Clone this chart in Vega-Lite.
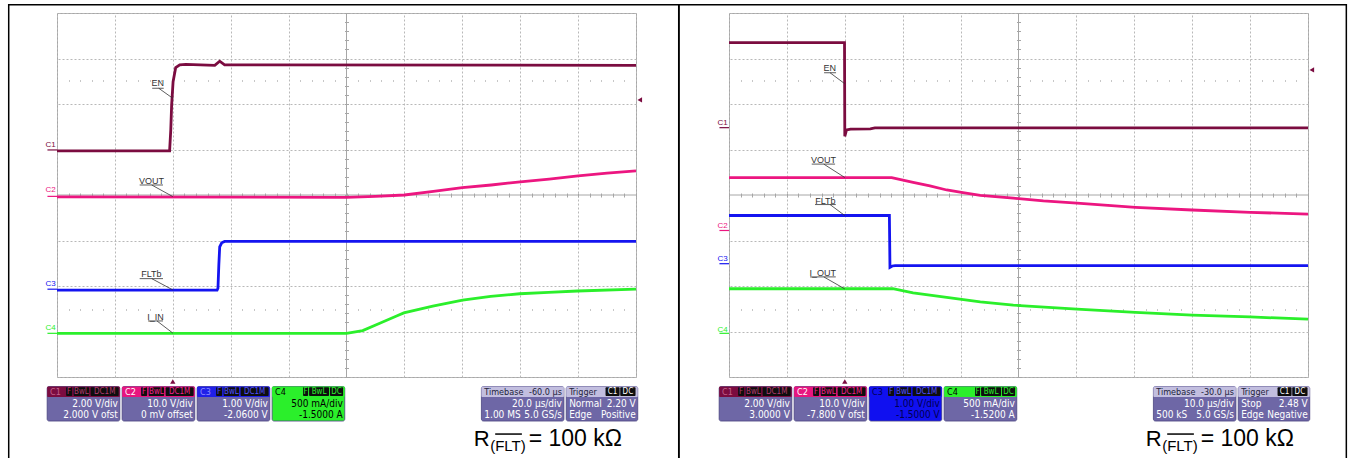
{
"$schema": "https://vega.github.io/schema/vega-lite/v6.json",
"background": "#ffffff",
"padding": {"left": 7, "top": 3, "right": 0, "bottom": 0},
"spacing": 93,
"bounds": "flush",
"config": {
  "view": {"stroke": "#a6a6a6", "strokeWidth": 1},
  "axis": {"labels": false, "ticks": false, "domain": false, "grid": false},
  "text": {"font": "Liberation Sans"}
},
"datasets": {
  "Ltr": [
    {"ch":"C1","t":-40,"v":0.97},{"ch":"C1","t":-1.1,"v":0.97},{"ch":"C1","t":-0.7,"v":1.43},{"ch":"C1","t":-0.4,"v":1.98},{"ch":"C1","t":0.1,"v":2.49},{"ch":"C1","t":1.0,"v":2.80},{"ch":"C1","t":2.4,"v":2.86},{"ch":"C1","t":4.5,"v":2.87},{"ch":"C1","t":14.5,"v":2.85},{"ch":"C1","t":16.2,"v":2.94},{"ch":"C1","t":17.9,"v":2.86},{"ch":"C1","t":160,"v":2.85},
    {"ch":"C2","t":-40,"v":-0.04},{"ch":"C2","t":60,"v":-0.05},{"ch":"C2","t":70,"v":-0.03},{"ch":"C2","t":80,"v":0.0},{"ch":"C2","t":90,"v":0.08},{"ch":"C2","t":100,"v":0.16},{"ch":"C2","t":110,"v":0.22},{"ch":"C2","t":120,"v":0.29},{"ch":"C2","t":130,"v":0.35},{"ch":"C2","t":140,"v":0.42},{"ch":"C2","t":150,"v":0.48},{"ch":"C2","t":160,"v":0.53},
    {"ch":"C3","t":-40,"v":-2.09},{"ch":"C3","t":15.3,"v":-2.09},{"ch":"C3","t":15.6,"v":-2.05},{"ch":"C3","t":15.9,"v":-1.54},{"ch":"C3","t":16.2,"v":-1.14},{"ch":"C3","t":16.9,"v":-1.05},{"ch":"C3","t":17.9,"v":-1.02},{"ch":"C3","t":160,"v":-1.02},
    {"ch":"C4","t":-40,"v":-3.04},{"ch":"C4","t":60,"v":-3.04},{"ch":"C4","t":65.6,"v":-2.98},{"ch":"C4","t":71.5,"v":-2.82},{"ch":"C4","t":77.3,"v":-2.66},{"ch":"C4","t":79.8,"v":-2.59},{"ch":"C4","t":89.8,"v":-2.44},{"ch":"C4","t":100.1,"v":-2.31},{"ch":"C4","t":109.8,"v":-2.23},{"ch":"C4","t":119.8,"v":-2.17},{"ch":"C4","t":129.8,"v":-2.14},{"ch":"C4","t":139.8,"v":-2.11},{"ch":"C4","t":160,"v":-2.07}
  ],
  "Rtr": [
    {"ch":"C1","t":-20,"v":3.35},{"ch":"C1","t":-0.05,"v":3.35},{"ch":"C1","t":0.0,"v":1.29},{"ch":"C1","t":0.3,"v":1.43},{"ch":"C1","t":1.0,"v":1.45},{"ch":"C1","t":4.4,"v":1.455},{"ch":"C1","t":5.2,"v":1.475},{"ch":"C1","t":80,"v":1.475},
    {"ch":"C2","t":-20,"v":0.38},{"ch":"C2","t":8.1,"v":0.38},{"ch":"C2","t":11.8,"v":0.28},{"ch":"C2","t":14.7,"v":0.20},{"ch":"C2","t":17.6,"v":0.11},{"ch":"C2","t":20.4,"v":0.05},{"ch":"C2","t":23.4,"v":-0.01},{"ch":"C2","t":29.1,"v":-0.07},{"ch":"C2","t":34.3,"v":-0.13},{"ch":"C2","t":40.1,"v":-0.18},{"ch":"C2","t":50.2,"v":-0.27},{"ch":"C2","t":60,"v":-0.33},{"ch":"C2","t":70,"v":-0.38},{"ch":"C2","t":80,"v":-0.42},
    {"ch":"C3","t":-20,"v":-0.45},{"ch":"C3","t":7.7,"v":-0.45},{"ch":"C3","t":7.8,"v":-1.59},{"ch":"C3","t":8.2,"v":-1.56},{"ch":"C3","t":8.7,"v":-1.55},{"ch":"C3","t":80,"v":-1.55},
    {"ch":"C4","t":-20,"v":-2.06},{"ch":"C4","t":8.3,"v":-2.06},{"ch":"C4","t":11.8,"v":-2.15},{"ch":"C4","t":17.6,"v":-2.25},{"ch":"C4","t":23.4,"v":-2.35},{"ch":"C4","t":29.1,"v":-2.42},{"ch":"C4","t":40.1,"v":-2.51},{"ch":"C4","t":50.2,"v":-2.58},{"ch":"C4","t":60,"v":-2.64},{"ch":"C4","t":70,"v":-2.68},{"ch":"C4","t":80,"v":-2.73}
  ],
  "Llab": [
    {"label":"EN","t":-5.22,"v":2.47},{"label":"VOUT","t":-7.4,"v":0.311},{"label":"FLTb","t":-7.4,"v":-1.741},{"label":"I_IN","t":-5.98,"v":-2.674}
  ],
  "Rlab": [
    {"label":"EN","t":-2.6,"v":2.797},{"label":"VOUT","t":-3.7,"v":0.766},{"label":"FLTb","t":-3.36,"v":-0.122},{"label":"I_OUT","t":-3.79,"v":-1.706}
  ],
  "Lseg": [
    {"t":-7.12,"t2":-3.14,"v":2.346,"v2":2.346},{"t":-4.86,"t2":0,"v":2.346,"v2":2.126},
    {"t":-11.44,"t2":-3.38,"v":0.22,"v2":0.22},{"t":-7.28,"t2":0,"v":0.22,"v2":-0.035},
    {"t":-11.44,"t2":-3.38,"v":-1.838,"v2":-1.838},{"t":-7.28,"t2":0,"v":-1.838,"v2":-2.086},
    {"t":-8.56,"t2":-3.38,"v":-2.768,"v2":-2.768},{"t":-5.46,"t2":0,"v":-2.768,"v2":-3.035}
  ],
  "Rseg": [
    {"t":-3.58,"t2":-1.51,"v":2.687,"v2":2.687},{"t":-2.55,"t2":0,"v":2.687,"v2":2.445},
    {"t":-5.71,"t2":-1.68,"v":0.679,"v2":0.679},{"t":-3.63,"t2":0,"v":0.679,"v2":0.384},
    {"t":-5.14,"t2":-1.56,"v":-0.21,"v2":-0.21},{"t":-2.55,"t2":0,"v":-0.21,"v2":-0.452},
    {"t":-6.0,"t2":-1.56,"v":-1.80,"v2":-1.80},{"t":-3.63,"t2":0,"v":-1.80,"v2":-2.064}
  ],
  "Lcm": [
    {"ch":"C1","t":-42.2,"v":1.09,"lt":-43.3,"lt2":-40,"lv":0.99},
    {"ch":"C2","t":-42.2,"v":0.10,"lt":-43.3,"lt2":-40,"lv":-0.03},
    {"ch":"C3","t":-42.2,"v":-1.96,"lt":-43.3,"lt2":-40,"lv":-2.07},
    {"ch":"C4","t":-42.2,"v":-2.92,"lt":-43.3,"lt2":-40,"lv":-3.04}
  ],
  "Rcm": [
    {"ch":"C1","t":-21.1,"v":1.59,"lt":-21.65,"lt2":-20,"lv":1.48},
    {"ch":"C2","t":-21.1,"v":-0.68,"lt":-21.65,"lt2":-20,"lv":-0.78},
    {"ch":"C3","t":-21.1,"v":-1.40,"lt":-21.65,"lt2":-20,"lv":-1.51},
    {"ch":"C4","t":-21.1,"v":-2.96,"lt":-21.65,"lt2":-20,"lv":-3.04}
  ],
  "Lbox": [
    {"kind":"body","tone":"body","t":-43.4,"t2":-18.3,"v":-4.209,"v2":-4.968},
    {"kind":"body","tone":"body","t":-17.5,"t2":7.6,"v":-4.209,"v2":-4.968},
    {"kind":"body","tone":"body","t":8.4,"t2":33.5,"v":-4.209,"v2":-4.968},
    {"kind":"body","tone":"green","t":34.3,"t2":59.4,"v":-4.209,"v2":-4.968},
    {"kind":"body","tone":"body","t":106.6,"t2":135.1,"v":-4.209,"v2":-4.968},
    {"kind":"body","tone":"body","t":135.9,"t2":160.6,"v":-4.209,"v2":-4.968},
    {"kind":"head","tone":"C1","t":-43.4,"t2":-18.3,"v":-4.209,"v2":-4.44},
    {"kind":"head","tone":"C2","t":-17.5,"t2":7.6,"v":-4.209,"v2":-4.44},
    {"kind":"head","tone":"C3","t":8.4,"t2":33.5,"v":-4.209,"v2":-4.44},
    {"kind":"head","tone":"C4","t":34.3,"t2":59.4,"v":-4.209,"v2":-4.44},
    {"kind":"head","tone":"tbh","t":106.6,"t2":135.1,"v":-4.209,"v2":-4.44},
    {"kind":"head","tone":"tbh","t":135.9,"t2":160.6,"v":-4.209,"v2":-4.44},
    {"kind":"chip","tone":"chip","t":-36.84,"t2":-34.76,"v":-4.228,"v2":-4.42},
    {"kind":"chip","tone":"chip","t":-34.24,"t2":-28.9,"v":-4.228,"v2":-4.42},
    {"kind":"chip","tone":"chip","t":-28.38,"t2":-18.7,"v":-4.228,"v2":-4.42},
    {"kind":"chip","tone":"chip","t":-10.94,"t2":-8.86,"v":-4.228,"v2":-4.42},
    {"kind":"chip","tone":"chip","t":-8.34,"t2":-3.0,"v":-4.228,"v2":-4.42},
    {"kind":"chip","tone":"chip","t":-2.48,"t2":7.2,"v":-4.228,"v2":-4.42},
    {"kind":"chip","tone":"chip","t":14.96,"t2":17.04,"v":-4.228,"v2":-4.42},
    {"kind":"chip","tone":"chip","t":17.56,"t2":22.9,"v":-4.228,"v2":-4.42},
    {"kind":"chip","tone":"chip","t":23.42,"t2":33.1,"v":-4.228,"v2":-4.42},
    {"kind":"chip","tone":"chip","t":45.0,"t2":46.74,"v":-4.228,"v2":-4.42},
    {"kind":"chip","tone":"chip","t":47.08,"t2":53.98,"v":-4.228,"v2":-4.42},
    {"kind":"chip","tone":"chip","t":54.3,"t2":58.82,"v":-4.228,"v2":-4.42},
    {"kind":"chip","tone":"chip","t":149.48,"t2":154.32,"v":-4.228,"v2":-4.42},
    {"kind":"chip","tone":"chip","t":154.56,"t2":159.84,"v":-4.228,"v2":-4.42}
  ],
  "Rbox": [
    {"kind":"body","tone":"body","t":-21.7,"t2":-9.15,"v":-4.209,"v2":-4.968},
    {"kind":"body","tone":"body","t":-8.75,"t2":3.8,"v":-4.209,"v2":-4.968},
    {"kind":"body","tone":"blue","t":4.2,"t2":16.75,"v":-4.209,"v2":-4.968},
    {"kind":"body","tone":"body","t":17.15,"t2":29.7,"v":-4.209,"v2":-4.968},
    {"kind":"body","tone":"body","t":53.3,"t2":67.55,"v":-4.209,"v2":-4.968},
    {"kind":"body","tone":"body","t":67.95,"t2":80.3,"v":-4.209,"v2":-4.968},
    {"kind":"head","tone":"C1","t":-21.7,"t2":-9.15,"v":-4.209,"v2":-4.44},
    {"kind":"head","tone":"C2","t":-8.75,"t2":3.8,"v":-4.209,"v2":-4.44},
    {"kind":"head","tone":"blue","t":4.2,"t2":16.75,"v":-4.209,"v2":-4.44},
    {"kind":"head","tone":"C4","t":17.15,"t2":29.7,"v":-4.209,"v2":-4.44},
    {"kind":"head","tone":"tbh","t":53.3,"t2":67.55,"v":-4.209,"v2":-4.44},
    {"kind":"head","tone":"tbh","t":67.95,"t2":80.3,"v":-4.209,"v2":-4.44},
    {"kind":"chip","tone":"chip","t":-18.42,"t2":-17.38,"v":-4.228,"v2":-4.42},
    {"kind":"chip","tone":"chip","t":-17.12,"t2":-14.45,"v":-4.228,"v2":-4.42},
    {"kind":"chip","tone":"chip","t":-14.19,"t2":-9.35,"v":-4.228,"v2":-4.42},
    {"kind":"chip","tone":"chip","t":-5.47,"t2":-4.43,"v":-4.228,"v2":-4.42},
    {"kind":"chip","tone":"chip","t":-4.17,"t2":-1.5,"v":-4.228,"v2":-4.42},
    {"kind":"chip","tone":"chip","t":-1.24,"t2":3.6,"v":-4.228,"v2":-4.42},
    {"kind":"chip","tone":"chip","t":7.48,"t2":8.52,"v":-4.228,"v2":-4.42},
    {"kind":"chip","tone":"chip","t":8.78,"t2":11.45,"v":-4.228,"v2":-4.42},
    {"kind":"chip","tone":"chip","t":11.71,"t2":16.55,"v":-4.228,"v2":-4.42},
    {"kind":"chip","tone":"chip","t":22.5,"t2":23.37,"v":-4.228,"v2":-4.42},
    {"kind":"chip","tone":"chip","t":23.54,"t2":26.99,"v":-4.228,"v2":-4.42},
    {"kind":"chip","tone":"chip","t":27.15,"t2":29.41,"v":-4.228,"v2":-4.42},
    {"kind":"chip","tone":"chip","t":74.74,"t2":77.16,"v":-4.228,"v2":-4.42},
    {"kind":"chip","tone":"chip","t":77.28,"t2":79.92,"v":-4.228,"v2":-4.42}
  ],
  "Ltxt": [
    {"text":"C1","tone":"c1h","side":"l","t":-42.4,"v":-4.324},
    {"text":"C2","tone":"w","side":"l","t":-16.5,"v":-4.324},
    {"text":"C3","tone":"c3h","side":"l","t":9.4,"v":-4.324},
    {"text":"C4","tone":"k","side":"l","t":35.3,"v":-4.324},
    {"text":"Timebase","tone":"dk","side":"l","t":107.6,"v":-4.324},
    {"text":"-60.0 µs","tone":"dk","side":"r","t":134.4,"v":-4.324},
    {"text":"Trigger","tone":"dk","side":"l","t":136.9,"v":-4.324},
    {"text":"F","tone":"c1","side":"c","t":-35.8,"v":-4.324},
    {"text":"BwL","tone":"c1","side":"c","t":-31.57,"v":-4.324},
    {"text":"DC1M","tone":"c1","side":"c","t":-23.54,"v":-4.324},
    {"text":"F","tone":"c2","side":"c","t":-9.9,"v":-4.324},
    {"text":"BwL","tone":"c2","side":"c","t":-5.67,"v":-4.324},
    {"text":"DC1M","tone":"c2","side":"c","t":2.36,"v":-4.324},
    {"text":"F","tone":"c3","side":"c","t":16.0,"v":-4.324},
    {"text":"BwL","tone":"c3","side":"c","t":20.23,"v":-4.324},
    {"text":"DC1M","tone":"c3","side":"c","t":28.26,"v":-4.324},
    {"text":"F","tone":"c4","side":"c","t":45.87,"v":-4.324},
    {"text":"BwL","tone":"c4","side":"c","t":50.53,"v":-4.324},
    {"text":"DC","tone":"c4","side":"c","t":56.56,"v":-4.324},
    {"text":"C1","tone":"w","side":"c","t":151.9,"v":-4.324},
    {"text":"DC","tone":"w","side":"c","t":157.2,"v":-4.324},
    {"text":"2.00 V/div","tone":"w","side":"r","t":-19.0,"v":-4.60},
    {"text":"10.0 V/div","tone":"w","side":"r","t":6.9,"v":-4.60},
    {"text":"1.00 V/div","tone":"w","side":"r","t":32.8,"v":-4.60},
    {"text":"500 mA/div","tone":"k","side":"r","t":58.7,"v":-4.60},
    {"text":"20.0 µs/div","tone":"w","side":"r","t":134.4,"v":-4.60},
    {"text":"Normal","tone":"w","side":"l","t":136.9,"v":-4.60},
    {"text":"2.20 V","tone":"w","side":"r","t":159.9,"v":-4.60},
    {"text":"2.000 V ofst","tone":"w","side":"r","t":-19.0,"v":-4.843},
    {"text":"0 mV offset","tone":"w","side":"r","t":6.9,"v":-4.843},
    {"text":"-2.0600 V","tone":"w","side":"r","t":32.8,"v":-4.843},
    {"text":"-1.5000 A","tone":"k","side":"r","t":58.7,"v":-4.843},
    {"text":"1.00 MS","tone":"w","side":"l","t":107.6,"v":-4.843},
    {"text":"5.0 GS/s","tone":"w","side":"r","t":134.4,"v":-4.843},
    {"text":"Edge","tone":"w","side":"l","t":136.9,"v":-4.843},
    {"text":"Positive","tone":"w","side":"r","t":159.9,"v":-4.843}
  ],
  "Rtxt": [
    {"text":"C1","tone":"c1h","side":"l","t":-21.2,"v":-4.324},
    {"text":"C2","tone":"w","side":"l","t":-8.25,"v":-4.324},
    {"text":"C3","tone":"nv","side":"l","t":4.7,"v":-4.324},
    {"text":"C4","tone":"k","side":"l","t":17.65,"v":-4.324},
    {"text":"Timebase","tone":"dk","side":"l","t":53.8,"v":-4.324},
    {"text":"-30.0 µs","tone":"dk","side":"r","t":67.2,"v":-4.324},
    {"text":"Trigger","tone":"dk","side":"l","t":68.45,"v":-4.324},
    {"text":"F","tone":"c1","side":"c","t":-17.9,"v":-4.324},
    {"text":"BwL","tone":"c1","side":"c","t":-15.785,"v":-4.324},
    {"text":"DC1M","tone":"c1","side":"c","t":-11.77,"v":-4.324},
    {"text":"F","tone":"c2","side":"c","t":-4.95,"v":-4.324},
    {"text":"BwL","tone":"c2","side":"c","t":-2.835,"v":-4.324},
    {"text":"DC1M","tone":"c2","side":"c","t":1.18,"v":-4.324},
    {"text":"F","tone":"c3","side":"c","t":8.0,"v":-4.324},
    {"text":"BwL","tone":"c3","side":"c","t":10.115,"v":-4.324},
    {"text":"DC1M","tone":"c3","side":"c","t":14.13,"v":-4.324},
    {"text":"F","tone":"c4","side":"c","t":22.935,"v":-4.324},
    {"text":"BwL","tone":"c4","side":"c","t":25.265,"v":-4.324},
    {"text":"DC","tone":"c4","side":"c","t":28.28,"v":-4.324},
    {"text":"C1","tone":"w","side":"c","t":75.95,"v":-4.324},
    {"text":"DC","tone":"w","side":"c","t":78.6,"v":-4.324},
    {"text":"2.00 V/div","tone":"w","side":"r","t":-9.5,"v":-4.60},
    {"text":"10.0 V/div","tone":"w","side":"r","t":3.45,"v":-4.60},
    {"text":"1.00 V/div","tone":"nv","side":"r","t":16.4,"v":-4.60},
    {"text":"500 mA/div","tone":"w","side":"r","t":29.35,"v":-4.60},
    {"text":"10.0 µs/div","tone":"w","side":"r","t":67.2,"v":-4.60},
    {"text":"Stop","tone":"w","side":"l","t":68.45,"v":-4.60},
    {"text":"2.48 V","tone":"w","side":"r","t":79.95,"v":-4.60},
    {"text":"3.0000 V","tone":"w","side":"r","t":-9.5,"v":-4.843},
    {"text":"-7.800 V ofst","tone":"w","side":"r","t":3.45,"v":-4.843},
    {"text":"-1.5000 V","tone":"nv","side":"r","t":16.4,"v":-4.843},
    {"text":"-1.5200 A","tone":"w","side":"r","t":29.35,"v":-4.843},
    {"text":"500 kS","tone":"w","side":"l","t":53.8,"v":-4.843},
    {"text":"5.0 GS/s","tone":"w","side":"r","t":67.2,"v":-4.843},
    {"text":"Edge","tone":"w","side":"l","t":68.45,"v":-4.843},
    {"text":"Negative","tone":"w","side":"r","t":79.95,"v":-4.843}
  ]
},
"hconcat": [
{
  "width": 579, "height": 364,
  "resolve": {"axis": {"x": "independent", "y": "independent"}, "scale": {"color": "independent", "fill": "independent"}},
  "layer": [
    {"data": {"values": [{"t": -56.68, "t2": 174.76, "v": 4.183, "v2": -5.9}]},
     "mark": {"type": "rect", "fillOpacity": 0, "stroke": "#000000", "strokeWidth": 1.5},
     "encoding": {"x": {"field": "t", "type": "quantitative", "scale": {"domain": [-40, 160], "nice": false, "zero": false}, "axis": null}, "x2": {"field": "t2"},
                  "y": {"field": "v", "type": "quantitative", "scale": {"domain": [-4, 4], "nice": false, "zero": false}, "axis": null}, "y2": {"field": "v2"}}},
    {"data": {"values": [{}]},
     "mark": {"type": "rule", "color": "#a6a6a6", "strokeWidth": 1},
     "encoding": {"x": {"datum": 60, "type": "quantitative", "axis": {"orient": "bottom", "offset": -184, "title": null, "ticks": true, "tickSize": 4, "tickColor": "#a6a6a6", "tickWidth": 1,
        "values": [-40,-36,-32,-28,-24,-20,-16,-12,-8,-4,0,4,8,12,16,20,24,28,32,36,40,44,48,52,56,60,64,68,72,76,80,84,88,92,96,100,104,108,112,116,120,124,128,132,136,140,144,148,152,156,160]}}}},
    {"data": {"values": [{}]},
     "mark": {"type": "rule", "color": "#a6a6a6", "strokeWidth": 1},
     "encoding": {"y": {"datum": 0, "type": "quantitative", "axis": {"orient": "left", "offset": -291.5, "title": null, "ticks": true, "tickSize": 4, "tickColor": "#a6a6a6", "tickWidth": 1,
        "values": [-4,-3.8,-3.6,-3.4,-3.2,-3,-2.8,-2.6,-2.4,-2.2,-2,-1.8,-1.6,-1.4,-1.2,-1,-0.8,-0.6,-0.4,-0.2,0,0.2,0.4,0.6,0.8,1,1.2,1.4,1.6,1.8,2,2.2,2.4,2.6,2.8,3,3.2,3.4,3.6,3.8,4]}}}},
    {"data": {"values": [{}]},
     "mark": {"type": "rule", "strokeOpacity": 0},
     "encoding": {"x": {"datum": 60, "type": "quantitative", "axis": {"orient": "top", "offset": -68.25, "title": null, "ticks": true, "tickSize": 1.5, "tickColor": "#b4b4b4", "tickWidth": 1,
        "values": [-36,-32,-28,-24,-16,-12,-8,-4,4,8,12,16,24,28,32,36,44,48,52,56,64,68,72,76,84,88,92,96,104,108,112,116,124,128,132,136,144,148,152,156]}}}},
    {"data": {"values": [{}]},
     "mark": {"type": "rule", "strokeOpacity": 0},
     "encoding": {"x": {"datum": 60, "type": "quantitative", "axis": {"orient": "bottom", "offset": -68.25, "title": null, "ticks": true, "tickSize": 1.5, "tickColor": "#b4b4b4", "tickWidth": 1,
        "values": [-36,-32,-28,-24,-16,-12,-8,-4,4,8,12,16,24,28,32,36,44,48,52,56,64,68,72,76,84,88,92,96,104,108,112,116,124,128,132,136,144,148,152,156]}}}},
    {"data": {"name": "Ltr"},
     "mark": {"type": "line", "strokeWidth": 2.8, "clip": true},
     "encoding": {
       "x": {"field": "t", "type": "quantitative", "scale": {"domain": [-40, 160], "nice": false, "zero": false},
             "axis": {"values": [-40,-20,0,20,40,80,100,120,140,160], "grid": true, "gridColor": "#b8b8b8", "gridDash": [2, 2], "gridWidth": 1, "title": null}},
       "y": {"field": "v", "type": "quantitative", "scale": {"domain": [-4, 4], "nice": false, "zero": false},
             "axis": {"values": [-4,-3,-2,-1,1,2,3,4], "grid": true, "gridColor": "#b8b8b8", "gridDash": [2, 2], "gridWidth": 1, "title": null}},
       "color": {"field": "ch", "type": "nominal", "scale": {"domain": ["C1","C2","C3","C4"], "range": ["#7b0c40","#ec1680","#1414f0","#2bef2b"]}, "legend": null}}},
    {"data": {"name": "Lseg"},
     "mark": {"type": "rule", "color": "#333333", "strokeWidth": 0.8},
     "encoding": {"x": {"field": "t", "type": "quantitative", "axis": null}, "x2": {"field": "t2"}, "y": {"field": "v", "type": "quantitative", "axis": null}, "y2": {"field": "v2"}}},
    {"data": {"name": "Llab"},
     "mark": {"type": "text", "fontSize": 9, "color": "#333333", "align": "center", "baseline": "middle"},
     "encoding": {"x": {"field": "t", "type": "quantitative", "axis": null}, "y": {"field": "v", "type": "quantitative", "axis": null}, "text": {"field": "label"}}},
    {"data": {"name": "Lcm"},
     "mark": {"type": "text", "fontSize": 8, "align": "center", "baseline": "middle"},
     "encoding": {"x": {"field": "t", "type": "quantitative", "axis": null}, "y": {"field": "v", "type": "quantitative", "axis": null}, "text": {"field": "ch"},
       "color": {"field": "ch", "type": "nominal", "scale": {"domain": ["C1","C2","C3","C4"], "range": ["#7b0c40","#ec1680","#1414f0","#2bef2b"]}, "legend": null}}},
    {"data": {"name": "Lcm"},
     "mark": {"type": "rule", "strokeWidth": 1.2},
     "encoding": {"x": {"field": "lt", "type": "quantitative", "axis": null}, "x2": {"field": "lt2"}, "y": {"field": "lv", "type": "quantitative", "axis": null},
       "color": {"field": "ch", "type": "nominal", "scale": {"domain": ["C1","C2","C3","C4"], "range": ["#7b0c40","#ec1680","#1414f0","#2bef2b"]}, "legend": null}}},
    {"data": {"values": [{"ch": "C1", "t": 161.3, "v": 2.09}]},
     "mark": {"type": "point", "shape": "triangle-left", "filled": true, "size": 28, "color": "#7b0c40", "opacity": 1},
     "encoding": {"x": {"field": "t", "type": "quantitative", "axis": null}, "y": {"field": "v", "type": "quantitative", "axis": null}}},
    {"data": {"values": [{"ch": "C1", "t": 0, "v": -4.10}]},
     "mark": {"type": "point", "shape": "triangle-up", "filled": true, "size": 28, "color": "#7b0c40", "opacity": 1},
     "encoding": {"x": {"field": "t", "type": "quantitative", "axis": null}, "y": {"field": "v", "type": "quantitative", "axis": null}}},
    {"data": {"name": "Lbox"}, "transform": [{"filter": "datum.kind == 'body'"}],
     "mark": {"type": "rect", "stroke": "#4a4480", "strokeWidth": 0.8, "cornerRadius": 2},
     "encoding": {"x": {"field": "t", "type": "quantitative", "axis": null}, "x2": {"field": "t2"}, "y": {"field": "v", "type": "quantitative", "axis": null}, "y2": {"field": "v2"},
       "fill": {"field": "tone", "type": "nominal", "scale": {"domain": ["body","C1","C2","C3","C4","tbh","chip","blue","green"], "range": ["#6e67a6","#7b0c40","#e8157f","#2020e8","#2bef2b","#c2bedf","#0e0e0e","#1010f0","#2bef2b"]}, "legend": null}}},
    {"data": {"name": "Lbox"}, "transform": [{"filter": "datum.kind != 'body'"}],
     "mark": {"type": "rect", "cornerRadius": 1},
     "encoding": {"x": {"field": "t", "type": "quantitative", "axis": null}, "x2": {"field": "t2"}, "y": {"field": "v", "type": "quantitative", "axis": null}, "y2": {"field": "v2"},
       "fill": {"field": "tone", "type": "nominal", "scale": {"domain": ["body","C1","C2","C3","C4","tbh","chip","blue","green"], "range": ["#6e67a6","#7b0c40","#e8157f","#2020e8","#2bef2b","#c2bedf","#0e0e0e","#1010f0","#2bef2b"]}, "legend": null}}},
    {"data": {"name": "Ltxt"}, "transform": [{"filter": "datum.side == 'l' && datum.v > -4.4"}],
     "mark": {"type": "text", "align": "left", "baseline": "middle", "font": "Liberation Sans Narrow, Arial Narrow, DejaVu Sans Condensed, sans-serif", "fontSize": 9},
     "encoding": {"x": {"field": "t", "type": "quantitative", "axis": null}, "y": {"field": "v", "type": "quantitative", "axis": null}, "text": {"field": "text"},
       "color": {"field": "tone", "type": "nominal", "scale": {"domain": ["w","k","nv","dk","c1","c2","c3","c4","c1h","c3h"], "range": ["#ffffff","#000000","#000050","#1e1e3c","#b03a6c","#f0208a","#5050ff","#2bef2b","#c0608a","#8c8cff"]}, "legend": null}}},
    {"data": {"name": "Ltxt"}, "transform": [{"filter": "datum.side == 'r' && datum.v > -4.4"}],
     "mark": {"type": "text", "align": "right", "baseline": "middle", "font": "Liberation Sans Narrow, Arial Narrow, DejaVu Sans Condensed, sans-serif", "fontSize": 9},
     "encoding": {"x": {"field": "t", "type": "quantitative", "axis": null}, "y": {"field": "v", "type": "quantitative", "axis": null}, "text": {"field": "text"},
       "color": {"field": "tone", "type": "nominal", "scale": {"domain": ["w","k","nv","dk","c1","c2","c3","c4","c1h","c3h"], "range": ["#ffffff","#000000","#000050","#1e1e3c","#b03a6c","#f0208a","#5050ff","#2bef2b","#c0608a","#8c8cff"]}, "legend": null}}},
    {"data": {"name": "Ltxt"}, "transform": [{"filter": "datum.side == 'l' && datum.v < -4.4"}],
     "mark": {"type": "text", "align": "left", "baseline": "middle", "font": "Liberation Sans Narrow, Arial Narrow, DejaVu Sans Condensed, sans-serif", "fontSize": 10},
     "encoding": {"x": {"field": "t", "type": "quantitative", "axis": null}, "y": {"field": "v", "type": "quantitative", "axis": null}, "text": {"field": "text"},
       "color": {"field": "tone", "type": "nominal", "scale": {"domain": ["w","k","nv","dk","c1","c2","c3","c4","c1h","c3h"], "range": ["#ffffff","#000000","#000050","#1e1e3c","#b03a6c","#f0208a","#5050ff","#2bef2b","#c0608a","#8c8cff"]}, "legend": null}}},
    {"data": {"name": "Ltxt"}, "transform": [{"filter": "datum.side == 'r' && datum.v < -4.4"}],
     "mark": {"type": "text", "align": "right", "baseline": "middle", "font": "Liberation Sans Narrow, Arial Narrow, DejaVu Sans Condensed, sans-serif", "fontSize": 10},
     "encoding": {"x": {"field": "t", "type": "quantitative", "axis": null}, "y": {"field": "v", "type": "quantitative", "axis": null}, "text": {"field": "text"},
       "color": {"field": "tone", "type": "nominal", "scale": {"domain": ["w","k","nv","dk","c1","c2","c3","c4","c1h","c3h"], "range": ["#ffffff","#000000","#000050","#1e1e3c","#b03a6c","#f0208a","#5050ff","#2bef2b","#c0608a","#8c8cff"]}, "legend": null}}},
    {"data": {"name": "Ltxt"}, "transform": [{"filter": "datum.side == 'c'"}],
     "mark": {"type": "text", "align": "center", "baseline": "middle", "font": "Liberation Sans Narrow, Arial Narrow, DejaVu Sans Condensed, sans-serif", "fontSize": 8},
     "encoding": {"x": {"field": "t", "type": "quantitative", "axis": null}, "y": {"field": "v", "type": "quantitative", "axis": null}, "text": {"field": "text"},
       "color": {"field": "tone", "type": "nominal", "scale": {"domain": ["w","k","nv","dk","c1","c2","c3","c4","c1h","c3h"], "range": ["#ffffff","#000000","#000050","#1e1e3c","#b03a6c","#f0208a","#5050ff","#2bef2b","#c0608a","#8c8cff"]}, "legend": null}}},
    {"data": {"values": [{"text": "R", "t": 103.94, "v": -5.518}]},
     "mark": {"type": "text", "align": "left", "baseline": "alphabetic", "fontSize": 22, "color": "#000000"},
     "encoding": {"x": {"field": "t", "type": "quantitative", "axis": null}, "y": {"field": "v", "type": "quantitative", "axis": null}, "text": {"field": "text"}}},
    {"data": {"values": [{"text": "= 100 kΩ", "t": 122.94, "v": -5.518}]},
     "mark": {"type": "text", "align": "left", "baseline": "alphabetic", "fontSize": 23, "color": "#000000"},
     "encoding": {"x": {"field": "t", "type": "quantitative", "axis": null}, "y": {"field": "v", "type": "quantitative", "axis": null}, "text": {"field": "text"}}},
    {"data": {"values": [{"text": "(FLT)", "t": 109.64, "v": -5.628}]},
     "mark": {"type": "text", "align": "left", "baseline": "alphabetic", "fontSize": 15, "color": "#000000"},
     "encoding": {"x": {"field": "t", "type": "quantitative", "axis": null}, "y": {"field": "v", "type": "quantitative", "axis": null}, "text": {"field": "text"}}},
    {"data": {"values": [{"t": 111.36, "t2": 120.58, "v": -5.254}]},
     "mark": {"type": "rule", "color": "#000000", "strokeWidth": 1.5},
     "encoding": {"x": {"field": "t", "type": "quantitative", "axis": null}, "x2": {"field": "t2"}, "y": {"field": "v", "type": "quantitative", "axis": null}}}
  ]
},
{
  "width": 579, "height": 364,
  "resolve": {"axis": {"x": "independent", "y": "independent"}, "scale": {"color": "independent", "fill": "independent"}},
  "layer": [
    {"data": {"values": [{"t": -28.64, "t2": 86.62, "v": 4.183, "v2": -5.9}]},
     "mark": {"type": "rect", "fillOpacity": 0, "stroke": "#000000", "strokeWidth": 1.5},
     "encoding": {"x": {"field": "t", "type": "quantitative", "scale": {"domain": [-20, 80], "nice": false, "zero": false}, "axis": null}, "x2": {"field": "t2"},
                  "y": {"field": "v", "type": "quantitative", "scale": {"domain": [-4, 4], "nice": false, "zero": false}, "axis": null}, "y2": {"field": "v2"}}},
    {"data": {"values": [{}]},
     "mark": {"type": "rule", "color": "#a6a6a6", "strokeWidth": 1},
     "encoding": {"x": {"datum": 30, "type": "quantitative", "axis": {"orient": "bottom", "offset": -184, "title": null, "ticks": true, "tickSize": 4, "tickColor": "#a6a6a6", "tickWidth": 1,
        "values": [-20,-18,-16,-14,-12,-10,-8,-6,-4,-2,0,2,4,6,8,10,12,14,16,18,20,22,24,26,28,30,32,34,36,38,40,42,44,46,48,50,52,54,56,58,60,62,64,66,68,70,72,74,76,78,80]}}}},
    {"data": {"values": [{}]},
     "mark": {"type": "rule", "color": "#a6a6a6", "strokeWidth": 1},
     "encoding": {"y": {"datum": 0, "type": "quantitative", "axis": {"orient": "left", "offset": -291.5, "title": null, "ticks": true, "tickSize": 4, "tickColor": "#a6a6a6", "tickWidth": 1,
        "values": [-4,-3.8,-3.6,-3.4,-3.2,-3,-2.8,-2.6,-2.4,-2.2,-2,-1.8,-1.6,-1.4,-1.2,-1,-0.8,-0.6,-0.4,-0.2,0,0.2,0.4,0.6,0.8,1,1.2,1.4,1.6,1.8,2,2.2,2.4,2.6,2.8,3,3.2,3.4,3.6,3.8,4]}}}},
    {"data": {"values": [{}]},
     "mark": {"type": "rule", "strokeOpacity": 0},
     "encoding": {"x": {"datum": 30, "type": "quantitative", "axis": {"orient": "top", "offset": -68.25, "title": null, "ticks": true, "tickSize": 1.5, "tickColor": "#b4b4b4", "tickWidth": 1,
        "values": [-18,-16,-14,-12,-8,-6,-4,-2,2,4,6,8,12,14,16,18,22,24,26,28,32,34,36,38,42,44,46,48,52,54,56,58,62,64,66,68,72,74,76,78]}}}},
    {"data": {"values": [{}]},
     "mark": {"type": "rule", "strokeOpacity": 0},
     "encoding": {"x": {"datum": 30, "type": "quantitative", "axis": {"orient": "bottom", "offset": -68.25, "title": null, "ticks": true, "tickSize": 1.5, "tickColor": "#b4b4b4", "tickWidth": 1,
        "values": [-18,-16,-14,-12,-8,-6,-4,-2,2,4,6,8,12,14,16,18,22,24,26,28,32,34,36,38,42,44,46,48,52,54,56,58,62,64,66,68,72,74,76,78]}}}},
    {"data": {"name": "Rtr"},
     "mark": {"type": "line", "strokeWidth": 2.8, "clip": true},
     "encoding": {
       "x": {"field": "t", "type": "quantitative", "scale": {"domain": [-20, 80], "nice": false, "zero": false},
             "axis": {"values": [-20,-10,0,10,20,40,50,60,70,80], "grid": true, "gridColor": "#b8b8b8", "gridDash": [2, 2], "gridWidth": 1, "title": null}},
       "y": {"field": "v", "type": "quantitative", "scale": {"domain": [-4, 4], "nice": false, "zero": false},
             "axis": {"values": [-4,-3,-2,-1,1,2,3,4], "grid": true, "gridColor": "#b8b8b8", "gridDash": [2, 2], "gridWidth": 1, "title": null}},
       "color": {"field": "ch", "type": "nominal", "scale": {"domain": ["C1","C2","C3","C4"], "range": ["#7b0c40","#ec1680","#1414f0","#2bef2b"]}, "legend": null}}},
    {"data": {"name": "Rseg"},
     "mark": {"type": "rule", "color": "#333333", "strokeWidth": 0.8},
     "encoding": {"x": {"field": "t", "type": "quantitative", "axis": null}, "x2": {"field": "t2"}, "y": {"field": "v", "type": "quantitative", "axis": null}, "y2": {"field": "v2"}}},
    {"data": {"name": "Rlab"},
     "mark": {"type": "text", "fontSize": 9, "color": "#333333", "align": "center", "baseline": "middle"},
     "encoding": {"x": {"field": "t", "type": "quantitative", "axis": null}, "y": {"field": "v", "type": "quantitative", "axis": null}, "text": {"field": "label"}}},
    {"data": {"name": "Rcm"},
     "mark": {"type": "text", "fontSize": 8, "align": "center", "baseline": "middle"},
     "encoding": {"x": {"field": "t", "type": "quantitative", "axis": null}, "y": {"field": "v", "type": "quantitative", "axis": null}, "text": {"field": "ch"},
       "color": {"field": "ch", "type": "nominal", "scale": {"domain": ["C1","C2","C3","C4"], "range": ["#7b0c40","#ec1680","#1414f0","#2bef2b"]}, "legend": null}}},
    {"data": {"name": "Rcm"},
     "mark": {"type": "rule", "strokeWidth": 1.2},
     "encoding": {"x": {"field": "lt", "type": "quantitative", "axis": null}, "x2": {"field": "lt2"}, "y": {"field": "lv", "type": "quantitative", "axis": null},
       "color": {"field": "ch", "type": "nominal", "scale": {"domain": ["C1","C2","C3","C4"], "range": ["#7b0c40","#ec1680","#1414f0","#2bef2b"]}, "legend": null}}},
    {"data": {"values": [{"ch": "C1", "t": 80.66, "v": 2.75}]},
     "mark": {"type": "point", "shape": "triangle-left", "filled": true, "size": 28, "color": "#7b0c40", "opacity": 1},
     "encoding": {"x": {"field": "t", "type": "quantitative", "axis": null}, "y": {"field": "v", "type": "quantitative", "axis": null}}},
    {"data": {"values": [{"ch": "C1", "t": 0, "v": -4.10}]},
     "mark": {"type": "point", "shape": "triangle-up", "filled": true, "size": 28, "color": "#7b0c40", "opacity": 1},
     "encoding": {"x": {"field": "t", "type": "quantitative", "axis": null}, "y": {"field": "v", "type": "quantitative", "axis": null}}},
    {"data": {"name": "Rbox"}, "transform": [{"filter": "datum.kind == 'body'"}],
     "mark": {"type": "rect", "stroke": "#4a4480", "strokeWidth": 0.8, "cornerRadius": 2},
     "encoding": {"x": {"field": "t", "type": "quantitative", "axis": null}, "x2": {"field": "t2"}, "y": {"field": "v", "type": "quantitative", "axis": null}, "y2": {"field": "v2"},
       "fill": {"field": "tone", "type": "nominal", "scale": {"domain": ["body","C1","C2","C3","C4","tbh","chip","blue","green"], "range": ["#6e67a6","#7b0c40","#e8157f","#2020e8","#2bef2b","#c2bedf","#0e0e0e","#1010f0","#2bef2b"]}, "legend": null}}},
    {"data": {"name": "Rbox"}, "transform": [{"filter": "datum.kind != 'body'"}],
     "mark": {"type": "rect", "cornerRadius": 1},
     "encoding": {"x": {"field": "t", "type": "quantitative", "axis": null}, "x2": {"field": "t2"}, "y": {"field": "v", "type": "quantitative", "axis": null}, "y2": {"field": "v2"},
       "fill": {"field": "tone", "type": "nominal", "scale": {"domain": ["body","C1","C2","C3","C4","tbh","chip","blue","green"], "range": ["#6e67a6","#7b0c40","#e8157f","#2020e8","#2bef2b","#c2bedf","#0e0e0e","#1010f0","#2bef2b"]}, "legend": null}}},
    {"data": {"name": "Rtxt"}, "transform": [{"filter": "datum.side == 'l' && datum.v > -4.4"}],
     "mark": {"type": "text", "align": "left", "baseline": "middle", "font": "Liberation Sans Narrow, Arial Narrow, DejaVu Sans Condensed, sans-serif", "fontSize": 9},
     "encoding": {"x": {"field": "t", "type": "quantitative", "axis": null}, "y": {"field": "v", "type": "quantitative", "axis": null}, "text": {"field": "text"},
       "color": {"field": "tone", "type": "nominal", "scale": {"domain": ["w","k","nv","dk","c1","c2","c3","c4","c1h","c3h"], "range": ["#ffffff","#000000","#000050","#1e1e3c","#b03a6c","#f0208a","#5050ff","#2bef2b","#c0608a","#8c8cff"]}, "legend": null}}},
    {"data": {"name": "Rtxt"}, "transform": [{"filter": "datum.side == 'r' && datum.v > -4.4"}],
     "mark": {"type": "text", "align": "right", "baseline": "middle", "font": "Liberation Sans Narrow, Arial Narrow, DejaVu Sans Condensed, sans-serif", "fontSize": 9},
     "encoding": {"x": {"field": "t", "type": "quantitative", "axis": null}, "y": {"field": "v", "type": "quantitative", "axis": null}, "text": {"field": "text"},
       "color": {"field": "tone", "type": "nominal", "scale": {"domain": ["w","k","nv","dk","c1","c2","c3","c4","c1h","c3h"], "range": ["#ffffff","#000000","#000050","#1e1e3c","#b03a6c","#f0208a","#5050ff","#2bef2b","#c0608a","#8c8cff"]}, "legend": null}}},
    {"data": {"name": "Rtxt"}, "transform": [{"filter": "datum.side == 'l' && datum.v < -4.4"}],
     "mark": {"type": "text", "align": "left", "baseline": "middle", "font": "Liberation Sans Narrow, Arial Narrow, DejaVu Sans Condensed, sans-serif", "fontSize": 10},
     "encoding": {"x": {"field": "t", "type": "quantitative", "axis": null}, "y": {"field": "v", "type": "quantitative", "axis": null}, "text": {"field": "text"},
       "color": {"field": "tone", "type": "nominal", "scale": {"domain": ["w","k","nv","dk","c1","c2","c3","c4","c1h","c3h"], "range": ["#ffffff","#000000","#000050","#1e1e3c","#b03a6c","#f0208a","#5050ff","#2bef2b","#c0608a","#8c8cff"]}, "legend": null}}},
    {"data": {"name": "Rtxt"}, "transform": [{"filter": "datum.side == 'r' && datum.v < -4.4"}],
     "mark": {"type": "text", "align": "right", "baseline": "middle", "font": "Liberation Sans Narrow, Arial Narrow, DejaVu Sans Condensed, sans-serif", "fontSize": 10},
     "encoding": {"x": {"field": "t", "type": "quantitative", "axis": null}, "y": {"field": "v", "type": "quantitative", "axis": null}, "text": {"field": "text"},
       "color": {"field": "tone", "type": "nominal", "scale": {"domain": ["w","k","nv","dk","c1","c2","c3","c4","c1h","c3h"], "range": ["#ffffff","#000000","#000050","#1e1e3c","#b03a6c","#f0208a","#5050ff","#2bef2b","#c0608a","#8c8cff"]}, "legend": null}}},
    {"data": {"name": "Rtxt"}, "transform": [{"filter": "datum.side == 'c'"}],
     "mark": {"type": "text", "align": "center", "baseline": "middle", "font": "Liberation Sans Narrow, Arial Narrow, DejaVu Sans Condensed, sans-serif", "fontSize": 8},
     "encoding": {"x": {"field": "t", "type": "quantitative", "axis": null}, "y": {"field": "v", "type": "quantitative", "axis": null}, "text": {"field": "text"},
       "color": {"field": "tone", "type": "nominal", "scale": {"domain": ["w","k","nv","dk","c1","c2","c3","c4","c1h","c3h"], "range": ["#ffffff","#000000","#000050","#1e1e3c","#b03a6c","#f0208a","#5050ff","#2bef2b","#c0608a","#8c8cff"]}, "legend": null}}},
    {"data": {"values": [{"text": "R", "t": 51.97, "v": -5.518}]},
     "mark": {"type": "text", "align": "left", "baseline": "alphabetic", "fontSize": 22, "color": "#000000"},
     "encoding": {"x": {"field": "t", "type": "quantitative", "axis": null}, "y": {"field": "v", "type": "quantitative", "axis": null}, "text": {"field": "text"}}},
    {"data": {"values": [{"text": "= 100 kΩ", "t": 61.47, "v": -5.518}]},
     "mark": {"type": "text", "align": "left", "baseline": "alphabetic", "fontSize": 23, "color": "#000000"},
     "encoding": {"x": {"field": "t", "type": "quantitative", "axis": null}, "y": {"field": "v", "type": "quantitative", "axis": null}, "text": {"field": "text"}}},
    {"data": {"values": [{"text": "(FLT)", "t": 54.82, "v": -5.628}]},
     "mark": {"type": "text", "align": "left", "baseline": "alphabetic", "fontSize": 15, "color": "#000000"},
     "encoding": {"x": {"field": "t", "type": "quantitative", "axis": null}, "y": {"field": "v", "type": "quantitative", "axis": null}, "text": {"field": "text"}}},
    {"data": {"values": [{"t": 55.68, "t2": 60.29, "v": -5.254}]},
     "mark": {"type": "rule", "color": "#000000", "strokeWidth": 1.5},
     "encoding": {"x": {"field": "t", "type": "quantitative", "axis": null}, "x2": {"field": "t2"}, "y": {"field": "v", "type": "quantitative", "axis": null}}}
  ]
}
]
}
